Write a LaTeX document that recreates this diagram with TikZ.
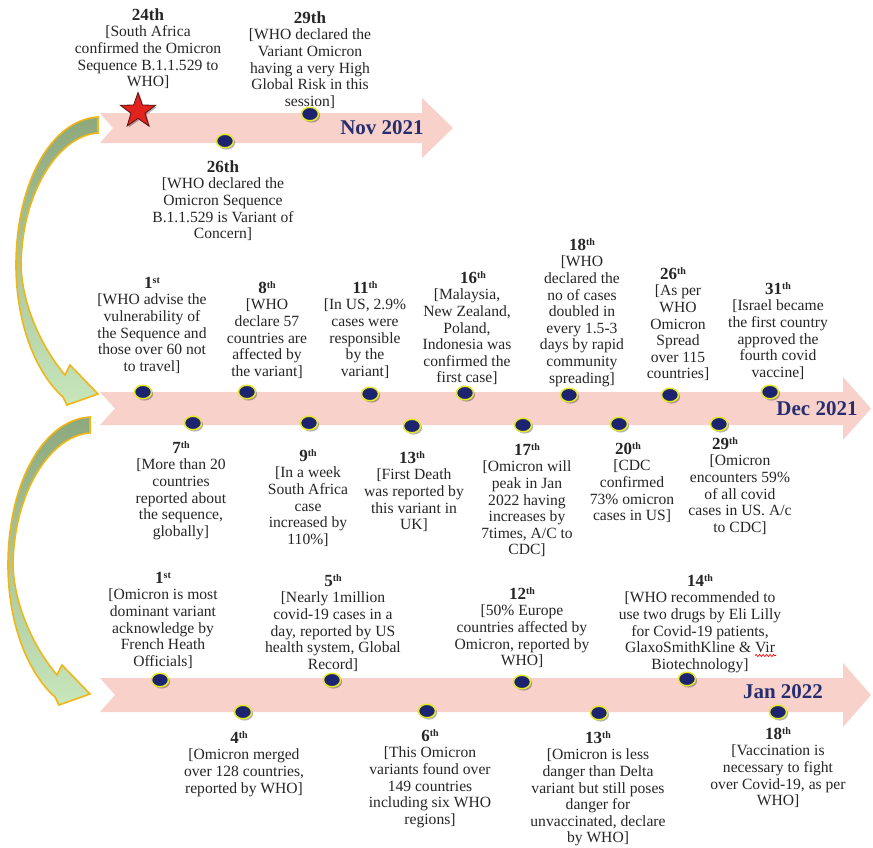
\documentclass[tikz,border=0pt]{standalone}
\usepackage{fontspec}
\setmainfont{Liberation Serif}
\usetikzlibrary{shapes.geometric,shadows,decorations.pathmorphing}

\definecolor{bandpink}{RGB}{247,209,202}
\definecolor{dotnavy}{RGB}{28,36,112}
\definecolor{dotring}{RGB}{228,232,40}
\definecolor{monthnavy}{RGB}{38,46,112}
\definecolor{evtext}{RGB}{38,38,38}
\definecolor{arrowgold}{RGB}{240,182,24}
\definecolor{sagedark}{RGB}{140,168,124}
\definecolor{sagelight}{RGB}{200,230,188}
\definecolor{starred}{RGB}{226,34,30}
\definecolor{staredge}{RGB}{90,20,16}

% bold day heading with a fixed strut so every heading line has the same height
\newcommand\evhead[1]{{\fontsize{17}{16.6}\selectfont\bfseries\rule{0pt}{16pt}#1}}
% small raised ordinal suffix
\newcommand\ord[2]{#1\raisebox{4.8pt}{\fontsize{10}{10}\selectfont #2}}

\tikzset{
  band/.style={fill=bandpink, draw=none},
  dot/.style={ellipse, minimum width=17pt, minimum height=13.5pt, inner sep=0pt,
    fill=dotnavy, draw=dotring, line width=1.5pt,
    drop shadow={shadow xshift=1.6pt, shadow yshift=-1.8pt, opacity=0.3, fill=black}},
  event/.style={anchor=north, align=center, inner sep=0pt, text=evtext,
    font=\fontsize{15.6}{16.6}\selectfont},
  month/.style={font=\fontsize{21}{24}\selectfont\bfseries, text=monthnavy, inner sep=0pt},
  curved/.style={draw=arrowgold, line width=1.6pt, line join=miter,
    top color=sagedark, bottom color=sagelight},
  redstar/.style={star, star points=5, star point ratio=2.5, minimum size=37pt, inner sep=0pt,
    fill=starred, draw=staredge, line width=0.8pt,
    drop shadow={shadow xshift=1.5pt, shadow yshift=-1.5pt, opacity=0.3, fill=black}},
  spellmark/.style={draw=red, line width=0.7pt, decorate,
    decoration={snake, amplitude=1.1pt, segment length=3.5pt}}
}

\begin{document}
\begin{tikzpicture}[x=1pt,y=-1pt]
\useasboundingbox (0,0) rectangle (873,847);
\fill[white] (0,0) rectangle (873,847);

% ---------- timeline bands ----------
\fill[band] (100,113) -- (422,113) -- (422,98) -- (453,128) -- (422,158) -- (422,143)
  -- (100,143) -- (113,128) -- cycle;
\fill[band] (100,392) -- (843,392) -- (843,377) -- (871,408.5) -- (843,440) -- (843,425)
  -- (100,425) -- (115,408.5) -- cycle;
\fill[band] (100,678) -- (843,678) -- (843,663) -- (871,695) -- (843,727) -- (843,712)
  -- (100,712) -- (115,695) -- cycle;

% ---------- curved arrows linking the months ----------
\newcommand\bendarrow{%
  \path[curved] (98,117) -- (98,133)
    .. controls (60,135) and (22,190) .. (21,265)
    .. controls (22,305) and (42,348) .. (65,375)
    -- (70,365) -- (98,394) -- (67,405) -- (63,397)
    .. controls (35,372) and (16,322) .. (16,265)
    .. controls (16,185) and (50,120) .. (98,117) -- cycle;}
\bendarrow
\begin{scope}[shift={(-8,300)}]
  \bendarrow
\end{scope}

% ---------- month labels ----------
\node[month] (m-nov) at (382,128) {Nov 2021};
\node[month] (m-dec) at (817,409) {Dec 2021};
\node[month] (m-jan) at (783,692) {Jan 2022};

% ---------- November 2021 ----------
\node[redstar] (s-nov24) at (138,111) {};
\node[dot] (d-nov26) at (225,141) {};
\node[dot] (d-nov29) at (310,114) {};

\node[event] (t-nov24) at (148,4) {\evhead{24th}\\{[}South Africa\\confirmed the Omicron\\Sequence B.1.1.529 to\\WHO]};
\node[event] (t-nov29) at (310,7) {\evhead{29th}\\{[}WHO declared the\\Variant Omicron\\having a very High\\Global Risk in this\\session]};
\node[event] (t-nov26) at (223,156) {\evhead{26th}\\{[}WHO declared the\\Omicron Sequence\\B.1.1.529 is Variant of\\Concern]};

% ---------- December 2021 ----------
\node[dot] (d-dec01) at (143,392) {};
\node[dot] (d-dec08) at (247,392) {};
\node[dot] (d-dec11) at (370,394) {};
\node[dot] (d-dec16) at (465,393) {};
\node[dot] (d-dec18) at (569,395) {};
\node[dot] (d-dec26) at (670,395) {};
\node[dot] (d-dec31) at (770,392) {};
\node[dot] (d-dec07) at (193,423) {};
\node[dot] (d-dec09) at (309,423) {};
\node[dot] (d-dec13) at (412,426) {};
\node[dot] (d-dec17) at (523,425) {};
\node[dot] (d-dec20) at (619,424) {};
\node[dot] (d-dec29) at (719,424) {};

\node[event] (t-dec01) at (152,272) {\evhead{\ord{1}{st}}\\{[}WHO advise the\\vulnerability of\\the Sequence and\\those over 60 not\\to travel]};
\node[event] (t-dec08) at (267,277) {\evhead{\ord{8}{th}}\\{[}WHO\\declare 57\\countries are\\affected by\\the variant]};
\node[event] (t-dec11) at (365,277) {\evhead{\ord{11}{th}}\\{[}In US, 2.9\%\\cases were\\responsible\\by the\\variant]};
\node[event] (t-dec16) at (467,267) {\evhead{\ord{16}{th}}\hspace*{-12pt}\\{[}Malaysia,\\New Zealand,\\Poland,\\Indonesia was\\confirmed the\\first case]};
\node[event] (t-dec18) at (582,234) {\evhead{\ord{18}{th}}\\{[}WHO\\declared the\\no of cases\\doubled in\\every 1.5-3\\days by rapid\\community\\spreading]};
\node[event] (t-dec26) at (678,263) {\evhead{\ord{26}{th}}\hspace*{10pt}\\{[}As per\\WHO\\Omicron\\Spread\\over 115\\countries]};
\node[event] (t-dec31) at (778,278) {\evhead{\ord{31}{th}}\\{[}Israel became\\the first country\\approved the\\fourth covid\\vaccine]};

\node[event] (t-dec07) at (181,437) {\evhead{\ord{7}{th}}\\{[}More than 20\\countries\\reported about\\the sequence,\\globally]};
\node[event] (t-dec09) at (308,445) {\evhead{\ord{9}{th}}\\{[}In a week\\South Africa\\case\\increased by\\110\%]};
\node[event] (t-dec13) at (414,447) {\evhead{\ord{13}{th}}\hspace*{4pt}\\{[}First Death\\was reported by\\this variant in\\UK]};
\node[event] (t-dec17) at (527,439) {\evhead{\ord{17}{th}}\\{[}Omicron will\\peak in Jan\\2022 having\\increases by\\7times, A/C to\\CDC]};
\node[event] (t-dec20) at (632,438) {\evhead{\ord{20}{th}}\hspace*{8pt}\\{[}CDC\\confirmed\\73\% omicron\\cases in US]};
\node[event] (t-dec29) at (740,433) {\evhead{\ord{29}{th}}\hspace*{30pt}\\{[}Omicron\\encounters 59\%\\of all covid\\cases in US. A/c\\to CDC]};

% ---------- January 2022 ----------
\node[dot] (d-jan01) at (160,680) {};
\node[dot] (d-jan05) at (332,680) {};
\node[dot] (d-jan12) at (522,682) {};
\node[dot] (d-jan14) at (687,679) {};
\node[dot] (d-jan04) at (243,712) {};
\node[dot] (d-jan06) at (427,711) {};
\node[dot] (d-jan13) at (599,713) {};
\node[dot] (d-jan18) at (778,712) {};

\node[event] (t-jan01) at (163,567) {\evhead{\ord{1}{st}}\\{[}Omicron is most\\dominant variant\\acknowledge by\\French Heath\\Officials]};
\node[event] (t-jan05) at (333,570) {\evhead{\ord{5}{th}}\\{[}Nearly 1million\\covid-19 cases in a\\day, reported by US\\health system, Global\\Record]};
\node[event] (t-jan12) at (522,583) {\evhead{\ord{12}{th}}\\{[}50\% Europe\\countries affected by\\Omicron, reported by\\WHO]};
\node[event] (t-jan14) at (700,570) {\evhead{\ord{14}{th}}\\{[}WHO recommended to\\use two drugs by Eli Lilly\\for Covid-19 patients,\\GlaxoSmithKline \& Vir\\Biotechnology]};
% spelling wave under "Vir"
\coordinate (w-a) at (755,655.5);
\coordinate (w-b) at (776,655.5);
\draw[spellmark] (w-a) -- (w-b);

\node[event] (t-jan04) at (244,727) {\evhead{\ord{4}{th}}\hspace*{10pt}\\{[}Omicron merged\\over 128 countries,\\reported by WHO]};
\node[event] (t-jan06) at (430,725) {\evhead{\ord{6}{th}}\\{[}This Omicron\\variants found over\\149 countries\\including six WHO\\regions]};
\node[event] (t-jan13) at (598,727) {\evhead{\ord{13}{th}}\\{[}Omicron is less\\danger than Delta\\variant but still poses\\danger for\\unvaccinated, declare\\by WHO]};
\node[event] (t-jan18) at (778,723) {\evhead{\ord{18}{th}}\\{[}Vaccination is\\necessary to fight\\over Covid-19, as per\\WHO]};
\end{tikzpicture}
\end{document}
